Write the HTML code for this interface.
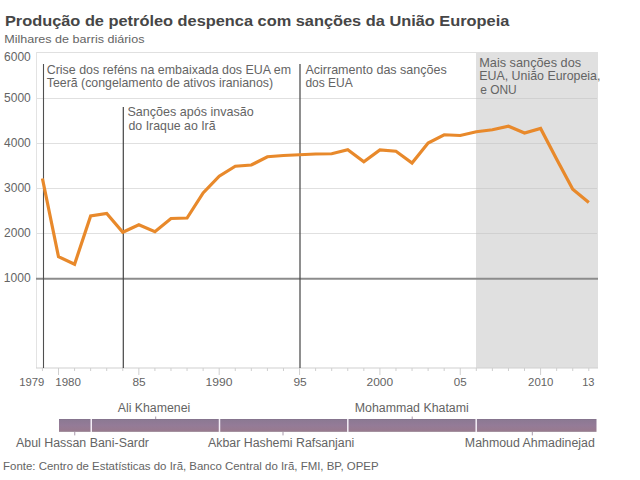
<!DOCTYPE html>
<html><head><meta charset="utf-8"><style>
html,body{margin:0;padding:0;background:#fff;width:640px;height:480px;overflow:hidden}
svg{display:block}
text{font-family:"Liberation Sans",sans-serif}
</style></head><body>
<svg width="640" height="480" viewBox="0 0 640 480">
<rect x="476" y="52" width="122" height="316" fill="#e0e0e0"/>
<line x1="36" y1="52.5" x2="476" y2="52.5" stroke="#e0e0e0" stroke-width="1"/>
<line x1="36" y1="98.5" x2="476" y2="98.5" stroke="#e0e0e0" stroke-width="1"/>
<line x1="476" y1="98.5" x2="597" y2="98.5" stroke="#d0d0d0" stroke-width="1"/>
<line x1="36" y1="143.5" x2="476" y2="143.5" stroke="#e0e0e0" stroke-width="1"/>
<line x1="476" y1="143.5" x2="597" y2="143.5" stroke="#d0d0d0" stroke-width="1"/>
<line x1="36" y1="188.5" x2="476" y2="188.5" stroke="#e0e0e0" stroke-width="1"/>
<line x1="476" y1="188.5" x2="597" y2="188.5" stroke="#d0d0d0" stroke-width="1"/>
<line x1="36" y1="233.5" x2="476" y2="233.5" stroke="#e0e0e0" stroke-width="1"/>
<line x1="476" y1="233.5" x2="597" y2="233.5" stroke="#d0d0d0" stroke-width="1"/>
<line x1="36.5" y1="52" x2="36.5" y2="368" stroke="#e3e3e3" stroke-width="1"/>
<line x1="36" y1="368" x2="598" y2="368" stroke="#cfcfcf" stroke-width="1.2"/>
<line x1="36" y1="278.8" x2="598" y2="278.8" stroke="#8c8c8c" stroke-width="2"/>
<line x1="42.43" y1="368" x2="42.43" y2="371" stroke="#cfcfcf" stroke-width="1"/>
<line x1="58.50" y1="368" x2="58.50" y2="375" stroke="#cfcfcf" stroke-width="1"/>
<line x1="74.57" y1="368" x2="74.57" y2="371" stroke="#cfcfcf" stroke-width="1"/>
<line x1="90.64" y1="368" x2="90.64" y2="371" stroke="#cfcfcf" stroke-width="1"/>
<line x1="106.71" y1="368" x2="106.71" y2="371" stroke="#cfcfcf" stroke-width="1"/>
<line x1="122.78" y1="368" x2="122.78" y2="371" stroke="#cfcfcf" stroke-width="1"/>
<line x1="138.85" y1="368" x2="138.85" y2="375" stroke="#cfcfcf" stroke-width="1"/>
<line x1="154.92" y1="368" x2="154.92" y2="371" stroke="#cfcfcf" stroke-width="1"/>
<line x1="170.99" y1="368" x2="170.99" y2="371" stroke="#cfcfcf" stroke-width="1"/>
<line x1="187.06" y1="368" x2="187.06" y2="371" stroke="#cfcfcf" stroke-width="1"/>
<line x1="203.13" y1="368" x2="203.13" y2="371" stroke="#cfcfcf" stroke-width="1"/>
<line x1="219.20" y1="368" x2="219.20" y2="375" stroke="#cfcfcf" stroke-width="1"/>
<line x1="235.27" y1="368" x2="235.27" y2="371" stroke="#cfcfcf" stroke-width="1"/>
<line x1="251.34" y1="368" x2="251.34" y2="371" stroke="#cfcfcf" stroke-width="1"/>
<line x1="267.41" y1="368" x2="267.41" y2="371" stroke="#cfcfcf" stroke-width="1"/>
<line x1="283.48" y1="368" x2="283.48" y2="371" stroke="#cfcfcf" stroke-width="1"/>
<line x1="299.55" y1="368" x2="299.55" y2="375" stroke="#cfcfcf" stroke-width="1"/>
<line x1="315.62" y1="368" x2="315.62" y2="371" stroke="#cfcfcf" stroke-width="1"/>
<line x1="331.69" y1="368" x2="331.69" y2="371" stroke="#cfcfcf" stroke-width="1"/>
<line x1="347.76" y1="368" x2="347.76" y2="371" stroke="#cfcfcf" stroke-width="1"/>
<line x1="363.83" y1="368" x2="363.83" y2="371" stroke="#cfcfcf" stroke-width="1"/>
<line x1="379.90" y1="368" x2="379.90" y2="375" stroke="#cfcfcf" stroke-width="1"/>
<line x1="395.97" y1="368" x2="395.97" y2="371" stroke="#cfcfcf" stroke-width="1"/>
<line x1="412.04" y1="368" x2="412.04" y2="371" stroke="#cfcfcf" stroke-width="1"/>
<line x1="428.11" y1="368" x2="428.11" y2="371" stroke="#cfcfcf" stroke-width="1"/>
<line x1="444.18" y1="368" x2="444.18" y2="371" stroke="#cfcfcf" stroke-width="1"/>
<line x1="460.25" y1="368" x2="460.25" y2="375" stroke="#cfcfcf" stroke-width="1"/>
<line x1="476.32" y1="368" x2="476.32" y2="371" stroke="#cfcfcf" stroke-width="1"/>
<line x1="492.39" y1="368" x2="492.39" y2="371" stroke="#cfcfcf" stroke-width="1"/>
<line x1="508.46" y1="368" x2="508.46" y2="371" stroke="#cfcfcf" stroke-width="1"/>
<line x1="524.53" y1="368" x2="524.53" y2="371" stroke="#cfcfcf" stroke-width="1"/>
<line x1="540.60" y1="368" x2="540.60" y2="375" stroke="#cfcfcf" stroke-width="1"/>
<line x1="556.67" y1="368" x2="556.67" y2="371" stroke="#cfcfcf" stroke-width="1"/>
<line x1="572.74" y1="368" x2="572.74" y2="371" stroke="#cfcfcf" stroke-width="1"/>
<line x1="588.81" y1="368" x2="588.81" y2="371" stroke="#cfcfcf" stroke-width="1"/>
<line x1="43.5" y1="64" x2="43.5" y2="368" stroke="#505050" stroke-width="1.1"/>
<line x1="123.3" y1="107" x2="123.3" y2="368" stroke="#444" stroke-width="1.2"/>
<line x1="300" y1="64" x2="300" y2="368" stroke="#444" stroke-width="1.2"/>
<polyline points="42.43,178.5 58.50,256.75 74.57,264.25 90.64,216.0 106.71,213.5 122.78,232.25 138.85,224.75 154.92,231.75 170.99,218.5 187.06,218.0 203.13,193.0 219.20,176.25 235.27,166.25 251.34,165.0 267.41,156.75 283.48,155.5 299.55,154.75 315.62,154.0 331.69,153.75 347.76,149.75 363.83,161.75 379.90,150.0 395.97,151.25 412.04,163.0 428.11,143.0 444.18,134.75 460.25,135.5 476.32,131.75 492.39,129.75 508.46,126.25 524.53,133.0 540.60,128.5 556.67,159.2 572.74,189.2 588.81,202.6" fill="none" stroke="#e8892b" stroke-width="3.2" stroke-linejoin="miter"/>
<defs><linearGradient id="pg" x1="0" y1="0" x2="0" y2="1"><stop offset="0" stop-color="#7f7088"/><stop offset="0.08" stop-color="#8c7993"/><stop offset="0.5" stop-color="#947b97"/><stop offset="0.92" stop-color="#987a8f"/><stop offset="1" stop-color="#8a7484"/></linearGradient></defs>
<rect x="59" y="419" width="537.5" height="12.8" fill="url(#pg)"/>
<rect x="90.5" y="419" width="1.5" height="13" fill="#f4eef6"/>
<rect x="218.75" y="419" width="1.5" height="13" fill="#f4eef6"/>
<rect x="347.05" y="419" width="1.5" height="13" fill="#f4eef6"/>
<rect x="475.45" y="419" width="1.5" height="13" fill="#f4eef6"/>
<line x1="155.7" y1="416.5" x2="155.7" y2="419" stroke="#a899ab" stroke-width="1"/>
<line x1="412.2" y1="416.5" x2="412.2" y2="419" stroke="#a899ab" stroke-width="1"/>
<line x1="74.75" y1="432" x2="74.75" y2="435.4" stroke="#a899ab" stroke-width="1"/>
<line x1="283" y1="432" x2="283" y2="435.4" stroke="#a899ab" stroke-width="1"/>
<line x1="532.3" y1="432" x2="532.3" y2="435.4" stroke="#a899ab" stroke-width="1"/>
<text x="4.92" y="26.1" font-size="15.2" font-weight="bold" fill="#464646" textLength="504.45" lengthAdjust="spacingAndGlyphs">Produção de petróleo despenca com sanções da União Europeia</text>
<text x="4.19" y="42.9" font-size="11.3" font-weight="normal" fill="#646464" textLength="140.24" lengthAdjust="spacingAndGlyphs">Milhares de barris diários</text>
<text x="4.10" y="61.3" font-size="12" font-weight="normal" fill="#646464" textLength="26.70" lengthAdjust="spacingAndGlyphs">6000</text>
<text x="4.10" y="102" font-size="12" font-weight="normal" fill="#646464" textLength="26.70" lengthAdjust="spacingAndGlyphs">5000</text>
<text x="4.10" y="147" font-size="12" font-weight="normal" fill="#646464" textLength="26.70" lengthAdjust="spacingAndGlyphs">4000</text>
<text x="4.10" y="192" font-size="12" font-weight="normal" fill="#646464" textLength="26.70" lengthAdjust="spacingAndGlyphs">3000</text>
<text x="4.10" y="237" font-size="12" font-weight="normal" fill="#646464" textLength="26.70" lengthAdjust="spacingAndGlyphs">2000</text>
<text x="3.79" y="281.7" font-size="12" font-weight="normal" fill="#646464" textLength="26.91" lengthAdjust="spacingAndGlyphs">1000</text>
<text x="19.26" y="386.4" font-size="11.4" font-weight="normal" fill="#646464" textLength="25.08" lengthAdjust="spacingAndGlyphs">1979</text>
<text x="55.24" y="386.4" font-size="11.4" font-weight="normal" fill="#646464" textLength="25.71" lengthAdjust="spacingAndGlyphs">1980</text>
<text x="132.50" y="386.4" font-size="11.4" font-weight="normal" fill="#646464" textLength="13.20" lengthAdjust="spacingAndGlyphs">85</text>
<text x="205.64" y="386.4" font-size="11.4" font-weight="normal" fill="#646464" textLength="26.93" lengthAdjust="spacingAndGlyphs">1990</text>
<text x="293.40" y="386.4" font-size="11.4" font-weight="normal" fill="#646464" textLength="13.31" lengthAdjust="spacingAndGlyphs">95</text>
<text x="366.60" y="386.4" font-size="11.4" font-weight="normal" fill="#646464" textLength="26.56" lengthAdjust="spacingAndGlyphs">2000</text>
<text x="453.80" y="386.4" font-size="11.4" font-weight="normal" fill="#646464" textLength="12.88" lengthAdjust="spacingAndGlyphs">05</text>
<text x="528.10" y="386.4" font-size="11.4" font-weight="normal" fill="#646464" textLength="25.34" lengthAdjust="spacingAndGlyphs">2010</text>
<text x="582.13" y="386.4" font-size="11.4" font-weight="normal" fill="#646464" textLength="12.33" lengthAdjust="spacingAndGlyphs">13</text>
<text x="46.75" y="73.9" font-size="12.2" font-weight="normal" fill="#646464" textLength="244.31" lengthAdjust="spacingAndGlyphs">Crise dos reféns na embaixada dos EUA em</text>
<text x="46.75" y="87.2" font-size="12.2" font-weight="normal" fill="#646464" textLength="226.34" lengthAdjust="spacingAndGlyphs">Teerã (congelamento de ativos iranianos)</text>
<text x="127.47" y="116.4" font-size="12.2" font-weight="normal" fill="#646464" textLength="126.19" lengthAdjust="spacingAndGlyphs">Sanções após invasão</text>
<text x="128.50" y="129.6" font-size="12.2" font-weight="normal" fill="#646464" textLength="87.06" lengthAdjust="spacingAndGlyphs">do Iraque ao Irã</text>
<text x="305.40" y="73.7" font-size="12.2" font-weight="normal" fill="#646464" textLength="141.38" lengthAdjust="spacingAndGlyphs">Acirramento das sanções</text>
<text x="305.40" y="86.8" font-size="12.2" font-weight="normal" fill="#646464" textLength="47.41" lengthAdjust="spacingAndGlyphs">dos EUA</text>
<text x="479.21" y="66.9" font-size="12.2" font-weight="normal" fill="#646464" textLength="101.88" lengthAdjust="spacingAndGlyphs">Mais sanções dos</text>
<text x="479.23" y="80.2" font-size="12.2" font-weight="normal" fill="#646464" textLength="121.22" lengthAdjust="spacingAndGlyphs">EUA, União Europeia,</text>
<text x="480.25" y="93.5" font-size="12.2" font-weight="normal" fill="#646464" textLength="36.49" lengthAdjust="spacingAndGlyphs">e ONU</text>
<text x="117.70" y="412.4" font-size="12" font-weight="normal" fill="#646464" textLength="72.54" lengthAdjust="spacingAndGlyphs">Ali Khamenei</text>
<text x="354.72" y="412.4" font-size="12" font-weight="normal" fill="#646464" textLength="114.02" lengthAdjust="spacingAndGlyphs">Mohammad Khatami</text>
<text x="16.00" y="447.2" font-size="12" font-weight="normal" fill="#646464" textLength="132.93" lengthAdjust="spacingAndGlyphs">Abul Hassan Bani-Sardr</text>
<text x="208.00" y="447.2" font-size="12" font-weight="normal" fill="#646464" textLength="146.38" lengthAdjust="spacingAndGlyphs">Akbar Hashemi Rafsanjani</text>
<text x="464.87" y="447.2" font-size="12" font-weight="normal" fill="#646464" textLength="129.93" lengthAdjust="spacingAndGlyphs">Mahmoud Ahmadinejad</text>
<text x="3.09" y="469.5" font-size="11.3" font-weight="normal" fill="#646464" textLength="375.55" lengthAdjust="spacingAndGlyphs">Fonte: Centro de Estatísticas do Irã, Banco Central do Irã, FMI, BP, OPEP</text>
</svg>
</body></html>
